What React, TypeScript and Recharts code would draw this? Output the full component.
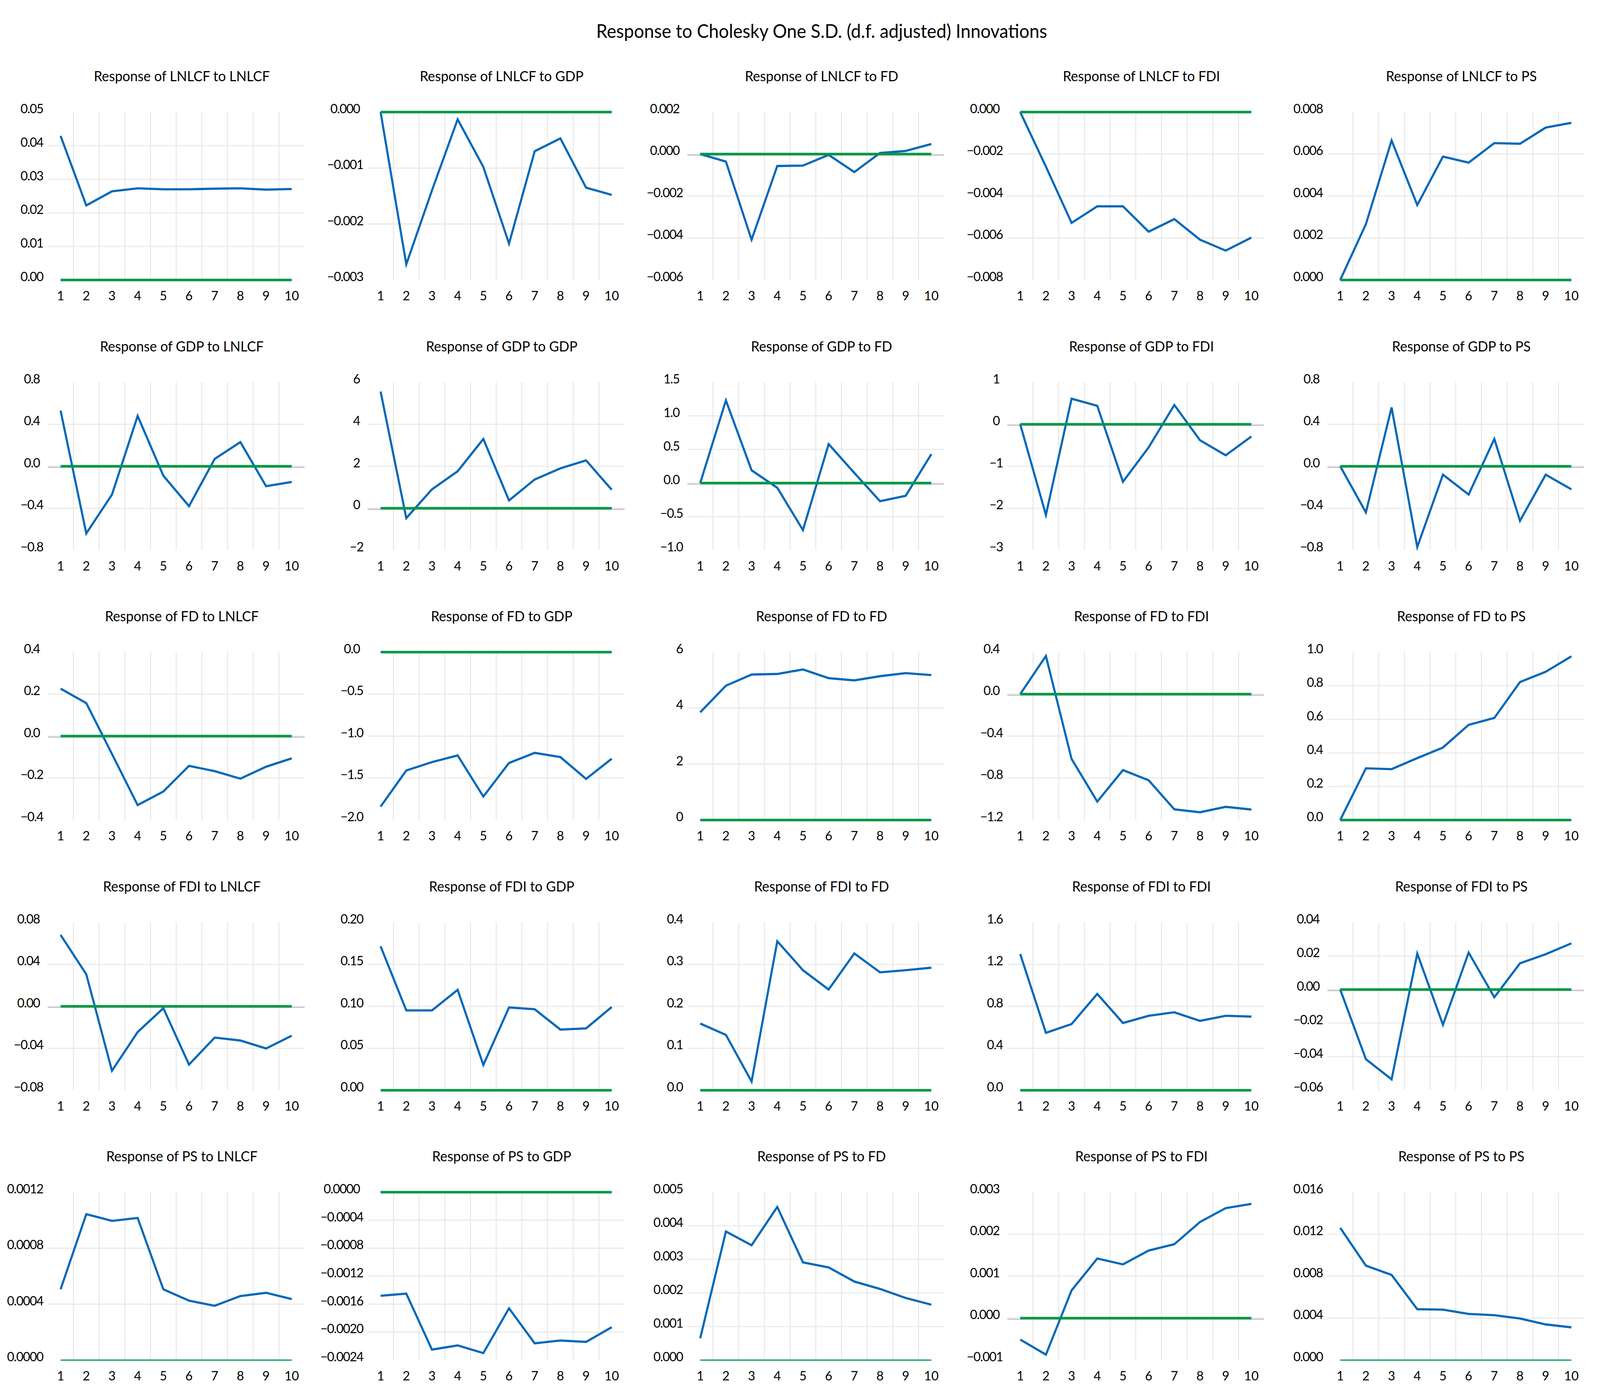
import React from "react";
import { LineChart, Line, XAxis, YAxis, ReferenceLine } from "recharts";

const FONT = "Lato, 'Noto Sans', sans-serif";
const BLUE = "#0068B8";
const GREEN = "#009846";
const GRID = "#e8e8e8";
const AXIS = "#bdbdbd";

const TITLE_FONT = 47.5;
const PANEL_FONT = 36;
const TICK_FONT = 33.5;
const TICK_SPACING = -1.5;

// page layout (px)
const PAGE_W = 4255;
const PAGE_H = 3557;
const COL0_LEFT = 127;
const COL_STEP = 850.7;
const BAND_W = 683;
const ROW0_TOP = 287;
const ROW_STEP = 691.5;
const PLOT_H = 430;
const AXIS_W = 200;
const TOP_PAD = 40;

const steps = [1, 2, 3, 4, 5, 6, 7, 8, 9, 10];
const gridSteps = [1.5, 2.5, 3.5, 4.5, 5.5, 6.5, 7.5, 8.5, 9.5];

// row 1: response of LNLCF
const lnlcfToLnlcf = [0.0429, 0.0222, 0.0264, 0.0273, 0.027, 0.027, 0.0272, 0.0273, 0.0269, 0.0271];
const lnlcfToGdp = [0, -0.00272, -0.0014, -0.00013, -0.00098, -0.00235, -0.0007, -0.00047, -0.00135, -0.00148];
const lnlcfToFd = [0, -0.00036, -0.00408, -0.00057, -0.00055, -0.00004, -0.00086, 0.00005, 0.00015, 0.00048];
const lnlcfToFdi = [0, -0.0026, -0.00528, -0.00449, -0.00449, -0.0057, -0.0051, -0.00608, -0.0066, -0.00598];
const lnlcfToPs = [0, 0.00266, 0.00665, 0.00357, 0.00588, 0.00559, 0.00652, 0.00649, 0.00726, 0.00749];

// row 2: response of GDP
const gdpToLnlcf = [0.53, -0.64, -0.27, 0.48, -0.09, -0.38, 0.07, 0.23, -0.19, -0.15];
const gdpToGdp = [5.56, -0.47, 0.9, 1.76, 3.3, 0.37, 1.37, 1.9, 2.28, 0.88];
const gdpToFd = [0, 1.23, 0.19, -0.07, -0.7, 0.58, 0.15, -0.27, -0.19, 0.43];
const gdpToFdi = [0, -2.16, 0.61, 0.44, -1.37, -0.55, 0.46, -0.38, -0.74, -0.29];
const gdpToPs = [0, -0.44, 0.56, -0.77, -0.08, -0.27, 0.26, -0.52, -0.08, -0.22];

// row 3: response of FD
const fdToLnlcf = [0.226, 0.157, -0.085, -0.329, -0.264, -0.142, -0.167, -0.203, -0.146, -0.106];
const fdToGdp = [-1.84, -1.41, -1.31, -1.23, -1.72, -1.32, -1.2, -1.25, -1.51, -1.27];
const fdToFd = [3.85, 4.8, 5.2, 5.22, 5.38, 5.07, 4.99, 5.14, 5.25, 5.18];
const fdToFdi = [0, 0.363, -0.618, -1.024, -0.724, -0.821, -1.098, -1.126, -1.074, -1.1];
const fdToPs = [0, 0.308, 0.303, 0.369, 0.432, 0.567, 0.608, 0.822, 0.883, 0.975];

// row 4: response of FDI
const fdiToLnlcf = [0.068, 0.0305, -0.0614, -0.0245, -0.0018, -0.0555, -0.0298, -0.0326, -0.0402, -0.028];
const fdiToGdp = [0.1715, 0.0951, 0.0951, 0.1196, 0.0301, 0.0986, 0.0965, 0.0723, 0.0737, 0.0992];
const fdiToFd = [0.159, 0.132, 0.021, 0.355, 0.286, 0.24, 0.326, 0.281, 0.286, 0.292];
const fdiToFdi = [1.298, 0.547, 0.631, 0.918, 0.641, 0.71, 0.743, 0.661, 0.71, 0.702];
const fdiToPs = [0, -0.0415, -0.0535, 0.0214, -0.021, 0.022, -0.0046, 0.0156, 0.021, 0.0275];

// row 5: response of PS
const psToLnlcf = [0.000506, 0.001043, 0.000995, 0.001016, 0.000506, 0.000425, 0.000388, 0.000458, 0.000481, 0.000436];
const psToGdp = [-0.00148, -0.00145, -0.00225, -0.00219, -0.0023, -0.00166, -0.00216, -0.00212, -0.00214, -0.00193];
const psToFd = [0.00065, 0.00383, 0.00342, 0.00456, 0.00291, 0.00276, 0.00234, 0.00212, 0.00185, 0.00165];
const psToFdi = [-0.00051, -0.00087, 0.00066, 0.00142, 0.00128, 0.00161, 0.00176, 0.00229, 0.00262, 0.00272];
const psToPs = [0.0126, 0.009, 0.00812, 0.00485, 0.00481, 0.0044, 0.00428, 0.00396, 0.0034, 0.00312];

// y-axis ticks, top to bottom
const ticksLnlcfToLnlcf = [0.05, 0.04, 0.03, 0.02, 0.01, 0];
const ticksLnlcfToGdp = [0, -0.001, -0.002, -0.003];
const ticksLnlcfToFd = [0.002, 0, -0.002, -0.004, -0.006];
const ticksLnlcfToFdi = [0, -0.002, -0.004, -0.006, -0.008];
const ticksLnlcfToPs = [0.008, 0.006, 0.004, 0.002, 0];
const ticksGdpToLnlcf = [0.8, 0.4, 0, -0.4, -0.8];
const ticksGdpToGdp = [6, 4, 2, 0, -2];
const ticksGdpToFd = [1.5, 1.0, 0.5, 0, -0.5, -1.0];
const ticksGdpToFdi = [1, 0, -1, -2, -3];
const ticksGdpToPs = [0.8, 0.4, 0, -0.4, -0.8];
const ticksFdToLnlcf = [0.4, 0.2, 0, -0.2, -0.4];
const ticksFdToGdp = [0, -0.5, -1.0, -1.5, -2.0];
const ticksFdToFd = [6, 4, 2, 0];
const ticksFdToFdi = [0.4, 0, -0.4, -0.8, -1.2];
const ticksFdToPs = [1.0, 0.8, 0.6, 0.4, 0.2, 0];
const ticksFdiToLnlcf = [0.08, 0.04, 0, -0.04, -0.08];
const ticksFdiToGdp = [0.2, 0.15, 0.1, 0.05, 0];
const ticksFdiToFd = [0.4, 0.3, 0.2, 0.1, 0];
const ticksFdiToFdi = [1.6, 1.2, 0.8, 0.4, 0];
const ticksFdiToPs = [0.04, 0.02, 0, -0.02, -0.04, -0.06];
const ticksPsToLnlcf = [0.0012, 0.0008, 0.0004, 0];
const ticksPsToGdp = [0, -0.0004, -0.0008, -0.0012, -0.0016, -0.002, -0.0024];
const ticksPsToFd = [0.005, 0.004, 0.003, 0.002, 0.001, 0];
const ticksPsToFdi = [0.003, 0.002, 0.001, 0, -0.001];
const ticksPsToPs = [0.016, 0.012, 0.008, 0.004, 0];

interface Panel {
  title: string;
  values: number[];
  ticks: number[];
  decimals: number;
  thinZero?: boolean;
}

const panels: Panel[] = [
  { title: "Response of LNLCF to LNLCF", values: lnlcfToLnlcf, ticks: ticksLnlcfToLnlcf, decimals: 2 },
  { title: "Response of LNLCF to GDP", values: lnlcfToGdp, ticks: ticksLnlcfToGdp, decimals: 3 },
  { title: "Response of LNLCF to FD", values: lnlcfToFd, ticks: ticksLnlcfToFd, decimals: 3 },
  { title: "Response of LNLCF to FDI", values: lnlcfToFdi, ticks: ticksLnlcfToFdi, decimals: 3 },
  { title: "Response of LNLCF to PS", values: lnlcfToPs, ticks: ticksLnlcfToPs, decimals: 3 },
  { title: "Response of GDP to LNLCF", values: gdpToLnlcf, ticks: ticksGdpToLnlcf, decimals: 1 },
  { title: "Response of GDP to GDP", values: gdpToGdp, ticks: ticksGdpToGdp, decimals: 0 },
  { title: "Response of GDP to FD", values: gdpToFd, ticks: ticksGdpToFd, decimals: 1 },
  { title: "Response of GDP to FDI", values: gdpToFdi, ticks: ticksGdpToFdi, decimals: 0 },
  { title: "Response of GDP to PS", values: gdpToPs, ticks: ticksGdpToPs, decimals: 1 },
  { title: "Response of FD to LNLCF", values: fdToLnlcf, ticks: ticksFdToLnlcf, decimals: 1 },
  { title: "Response of FD to GDP", values: fdToGdp, ticks: ticksFdToGdp, decimals: 1 },
  { title: "Response of FD to FD", values: fdToFd, ticks: ticksFdToFd, decimals: 0 },
  { title: "Response of FD to FDI", values: fdToFdi, ticks: ticksFdToFdi, decimals: 1 },
  { title: "Response of FD to PS", values: fdToPs, ticks: ticksFdToPs, decimals: 1 },
  { title: "Response of FDI to LNLCF", values: fdiToLnlcf, ticks: ticksFdiToLnlcf, decimals: 2 },
  { title: "Response of FDI to GDP", values: fdiToGdp, ticks: ticksFdiToGdp, decimals: 2 },
  { title: "Response of FDI to FD", values: fdiToFd, ticks: ticksFdiToFd, decimals: 1 },
  { title: "Response of FDI to FDI", values: fdiToFdi, ticks: ticksFdiToFdi, decimals: 1 },
  { title: "Response of FDI to PS", values: fdiToPs, ticks: ticksFdiToPs, decimals: 2 },
  { title: "Response of PS to LNLCF", values: psToLnlcf, ticks: ticksPsToLnlcf, decimals: 4, thinZero: true },
  { title: "Response of PS to GDP", values: psToGdp, ticks: ticksPsToGdp, decimals: 4 },
  { title: "Response of PS to FD", values: psToFd, ticks: ticksPsToFd, decimals: 3, thinZero: true },
  { title: "Response of PS to FDI", values: psToFdi, ticks: ticksPsToFdi, decimals: 3 },
  { title: "Response of PS to PS", values: psToPs, ticks: ticksPsToPs, decimals: 3, thinZero: true },
];

function fmt(v: number, decimals: number) {
  const s = Math.abs(v).toFixed(decimals);
  return v < -1e-12 ? "\u2212" + s : s;
}

// rough label width, used to centre the y labels in their column
function textWidth(s: string) {
  let w = 0;
  for (const ch of s) w += (ch === "." ? 0.25 : 0.58) * TICK_FONT + TICK_SPACING;
  return w;
}

function YTick(props: any) {
  const { y, payload, decimals, cx } = props;
  return (
    <text
      x={cx}
      y={y - 9}
      dy="0.355em"
      textAnchor="middle"
      fontSize={TICK_FONT}
      fill="#000"
      fontFamily={FONT}
      letterSpacing={TICK_SPACING}
    >
      {fmt(payload.value, decimals)}
    </text>
  );
}

function XTick(props: any) {
  const { x, y, payload } = props;
  return (
    <text x={x} y={y + 40} dy="0.355em" textAnchor="middle" fontSize={TICK_FONT} fill="#000" fontFamily={FONT}>
      {payload.value}
    </text>
  );
}

function ImpulsePanel({ panel, index }: { panel: Panel; index: number }) {
  const row = Math.floor(index / 5);
  const col = index % 5;
  const bandLeft = COL0_LEFT + col * COL_STEP;
  const plotTop = ROW0_TOP + row * ROW_STEP;
  const data = steps.map((s, i) => ({ step: s, value: panel.values[i], zero: 0 }));
  const lo = Math.min(...panel.ticks);
  const hi = Math.max(...panel.ticks);
  const inner = panel.ticks.filter((t) => t !== lo && t !== hi);
  const labels = panel.ticks.map((t) => fmt(t, panel.decimals));
  const maxW = Math.max(...labels.map(textWidth));
  const labelCx = AXIS_W - 12 - maxW / 2;
  const zeroInside = lo < 0 && hi > 0;

  return (
    <>
      <div
        style={{
          position: "absolute",
          left: bandLeft + BAND_W / 2 + 15 - 400,
          width: 800,
          top: 194 + row * ROW_STEP - 30,
          height: 60,
          lineHeight: "60px",
          textAlign: "center",
          fontSize: PANEL_FONT,
          fontFamily: FONT,
          color: "#000",
          whiteSpace: "nowrap",
        }}
      >
        {panel.title}
      </div>
      <div style={{ position: "absolute", left: bandLeft - AXIS_W, top: plotTop - TOP_PAD }}>
        <LineChart
          width={AXIS_W + BAND_W + 20}
          height={TOP_PAD + PLOT_H + 80}
          data={data}
          margin={{ top: TOP_PAD, right: 20, left: 0, bottom: 0 }}
          style={{ overflow: "visible" }}
        >
          <XAxis
            dataKey="step"
            type="number"
            domain={[0.5, 10.5]}
            ticks={steps}
            interval={0}
            tick={<XTick />}
            tickLine={false}
            axisLine={false}
            tickSize={0}
            tickMargin={0}
            height={80}
          />
          <YAxis
            type="number"
            domain={[lo, hi]}
            ticks={panel.ticks}
            interval={0}
            tick={<YTick decimals={panel.decimals} cx={labelCx} />}
            tickLine={false}
            axisLine={false}
            width={AXIS_W}
          />
          {gridSteps.map((g) => (
            <ReferenceLine key={`v${g}`} x={g} stroke={GRID} strokeWidth={2.7} />
          ))}
          {inner.map((t) => (
            <ReferenceLine key={`h${t}`} y={t} stroke={GRID} strokeWidth={2.7} />
          ))}
          {zeroInside && (
            <ReferenceLine
              y={0}
              shape={(p: any) => (
                <line x1={p.x1} x2={p.x2} y1={p.y1 + 2.7} y2={p.y2 + 2.7} stroke={AXIS} strokeWidth={2.6} />
              )}
            />
          )}
          <Line
            dataKey="value"
            stroke={BLUE}
            strokeWidth={5.6}
            dot={false}
            activeDot={false}
            isAnimationActive={false}
          />
          <Line
            dataKey="zero"
            stroke={GREEN}
            strokeWidth={panel.thinZero ? 3 : 6.4}
            dot={false}
            activeDot={false}
            isAnimationActive={false}
          />
        </LineChart>
      </div>
    </>
  );
}

export default function App() {
  // fit the fixed 4255 x 3557 layout into whatever viewport we actually get
  let sx = 1;
  let sy = 1;
  if (typeof window !== "undefined") {
    const vw = Math.min(window.innerWidth, document.documentElement.clientWidth || window.innerWidth);
    const vh = Math.min(window.innerHeight, document.documentElement.clientHeight || window.innerHeight);
    if (vw > 0 && vw < PAGE_W) sx = vw / PAGE_W;
    if (vh > 0 && vh < PAGE_H) sy = vh / PAGE_H;
  }

  return (
    <div
      style={{
        position: "absolute",
        left: 0,
        top: 0,
        width: PAGE_W,
        height: PAGE_H,
        background: "#fff",
        overflow: "hidden",
        transform: `scale(${sx}, ${sy})`,
        transformOrigin: "0 0",
      }}
    >
      <div
        style={{
          position: "absolute",
          left: 2185 - 1000,
          width: 2000,
          top: 79 - 40,
          height: 80,
          lineHeight: "80px",
          textAlign: "center",
          fontSize: TITLE_FONT,
          fontFamily: FONT,
          color: "#000",
        }}
      >
        Response to Cholesky One S.D. (d.f. adjusted) Innovations
      </div>
      {panels.map((p, i) => (
        <ImpulsePanel key={p.title} panel={p} index={i} />
      ))}
    </div>
  );
}
